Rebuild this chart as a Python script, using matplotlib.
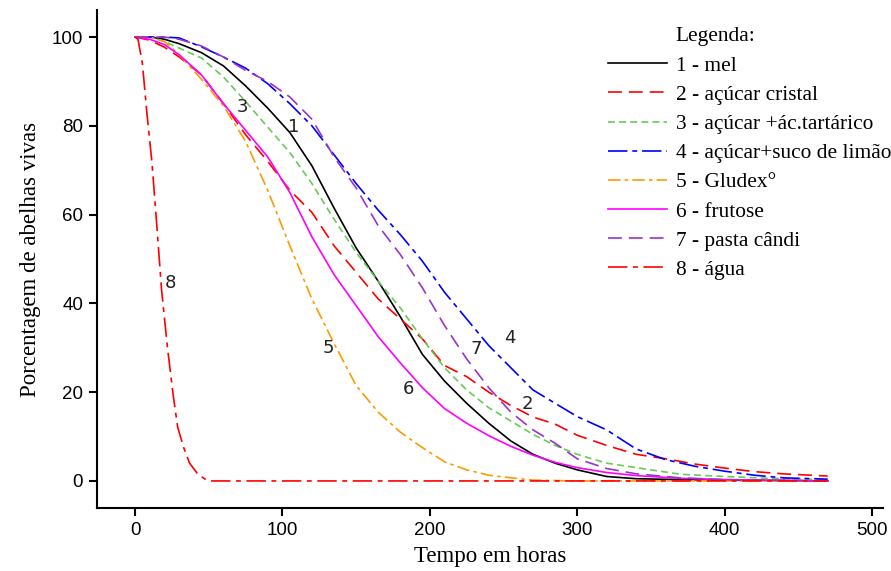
import matplotlib
matplotlib.use("Agg")
import matplotlib.pyplot as plt
import numpy as np

# ---- data ----
x_mel = [0, 10, 20, 30, 45, 60, 75, 90, 105, 120, 135, 150, 165, 180, 195, 210, 225, 240, 255, 270, 285, 300, 320, 340, 370, 400, 470]
y_mel = [100, 100, 99.5, 98.5, 96.5, 93.5, 89, 84, 78.5, 71, 61.5, 52.5, 45, 37, 28.5, 22.5, 17.5, 13, 9, 6, 4, 2.5, 1, 0.5, 0.3, 0.2, 0]

x_cristal = [0, 10, 20, 30, 45, 60, 75, 90, 105, 120, 135, 150, 165, 180, 195, 210, 225, 240, 255, 270, 285, 300, 320, 340, 360, 380, 400, 420, 440, 470]
y_cristal = [100, 99.3, 97.7, 95.5, 91.5, 85, 78, 72, 65.5, 60.5, 53, 47, 41, 36.5, 32, 26, 23.5, 20, 17, 14.4, 12.8, 10.3, 8, 6, 5, 3.8, 2.9, 2.1, 1.6, 1.1]

x_tart = [0, 10, 20, 30, 45, 60, 75, 90, 105, 120, 135, 150, 165, 180, 195, 210, 225, 240, 255, 270, 285, 300, 320, 340, 370, 400, 430, 470]
y_tart = [100, 100, 99, 97.5, 95.3, 91, 85.5, 79.7, 74, 67, 59, 51.5, 45, 39, 32, 25.5, 20.5, 16.5, 13.5, 10.5, 8, 6, 4, 3, 1.5, 1, 0.6, 0.3]

x_limao = [0, 10, 20, 30, 45, 60, 75, 90, 105, 120, 135, 150, 165, 180, 195, 210, 225, 240, 255, 270, 285, 300, 320, 340, 360, 380, 400, 420, 440, 470]
y_limao = [100, 100, 100, 99.8, 97.8, 95.5, 93, 89.5, 85, 80, 73.5, 67, 61, 55.5, 49.5, 42.5, 36.5, 30.5, 25.5, 20.5, 17.5, 14.5, 11.5, 7.2, 4.8, 3.3, 2.2, 1.3, 0.7, 0.4]

x_gludex = [0, 10, 20, 30, 45, 60, 75, 90, 105, 120, 135, 150, 165, 180, 195, 210, 225, 240, 255, 270, 300, 470]
y_gludex = [100, 100, 99, 96, 90.5, 84.5, 76.5, 65.5, 53, 41, 31, 21.5, 15.5, 11, 7.5, 4.3, 2.5, 1.3, 0.7, 0.2, 0, 0]

x_frut = [0, 10, 20, 30, 45, 60, 75, 90, 105, 120, 135, 150, 165, 180, 195, 210, 225, 240, 255, 270, 285, 300, 320, 340, 370, 400, 470]
y_frut = [100, 99.5, 98.3, 96, 91.5, 85, 79, 73, 65, 55, 46.5, 39.5, 32.5, 26.6, 21, 16.3, 13, 10.2, 7.8, 5.8, 4.2, 3, 1.9, 1.2, 0.6, 0.3, 0]

x_candi = [0, 10, 20, 30, 45, 60, 75, 90, 105, 120, 135, 150, 165, 180, 195, 210, 225, 240, 255, 270, 285, 300, 320, 340, 370, 400, 470]
y_candi = [100, 100, 100, 99.5, 98, 95.5, 92.5, 90, 86.5, 81.5, 73, 66, 57.5, 51, 43.5, 35, 27.5, 21, 15.5, 11.5, 8.5, 5, 2.8, 1.6, 0.7, 0.3, 0]

x_agua = [0, 2, 5, 8, 11.5, 15, 18, 22, 26, 29, 33, 37, 42, 47, 51, 470]
y_agua = [100, 99.5, 94, 83, 71.6, 56.5, 43, 30, 19, 12, 7.5, 4, 1.8, 0.5, 0, 0]

labels = ["1 - mel", "2 - açúcar cristal", "3 - açúcar +ác.tartárico",
          "4 - açúcar+suco de limão", "5 - Gludex°", "6 - frutose",
          "7 - pasta cândi", "8 - água"]

curve_numbers = ["1", "2", "3", "4", "5", "6", "7", "8"]
number_x = [107.9, 266, 73.2, 254.4, 130.9, 185.2, 231.3, 23.7]
number_y = [79.7, 17.3, 84.2, 32.2, 29.9, 20.7, 29.7, 44.6]

x_ticks = [0, 100, 200, 300, 400, 500]
y_ticks = [0, 20, 40, 60, 80, 100]

# ---- styling ----
plt.rcParams['lines.scale_dashes'] = False
colors = ["#000000", "#ff0000", "#66cc55", "#0000ff", "#ff9900", "#ff00ff", "#9933cc", "#ff0000"]
styles = ["-", (0, (10, 5)), (0, (5, 3)), (0, (14, 3.5, 3.5, 3.5)),
          (0, (9, 3, 2.5, 3)), "-", (0, (10, 5)), (0, (14, 4, 3.5, 4))]

series = [(x_mel, y_mel), (x_cristal, y_cristal), (x_tart, y_tart), (x_limao, y_limao),
          (x_gludex, y_gludex), (x_frut, y_frut), (x_candi, y_candi), (x_agua, y_agua)]

fig = plt.figure(figsize=(8.91, 5.71), dpi=100)
ax = fig.add_axes([0.1089, 0.1103, 0.991 - 0.1089, 0.9825 - 0.1103])

handles = []
for (xs, ys), c, ls, lab in zip(series, colors, styles, labels):
    h, = ax.plot(xs, ys, color=c, linestyle=ls, linewidth=1.2, label=lab)
    handles.append(h)

for t, xx, yy in zip(curve_numbers, number_x, number_y):
    ax.text(xx, yy, t, fontsize=13, family="DejaVu Sans", color="#222222",
            ha="center", va="center")

ax.set_xlim(-25.8, 507.5)
ax.set_ylim(-6.1, 106.1)
ax.set_xticks(x_ticks)
ax.set_yticks(y_ticks)
for s in ["top", "right"]:
    ax.spines[s].set_visible(False)
for s in ["left", "bottom"]:
    ax.spines[s].set_linewidth(1.5)
ax.tick_params(direction="out", length=6, width=1.5, labelsize=13.5, pad=4)
for lab in ax.get_xticklabels() + ax.get_yticklabels():
    lab.set_family(["Liberation Sans Narrow", "Liberation Sans"])

ax.set_xlabel("Tempo em horas", family="Liberation Serif", fontsize=16.5, labelpad=5)
ax.set_ylabel("Porcentagem de abelhas vivas", family="Liberation Serif", fontsize=16.5, labelpad=8)

leg = ax.legend(handles=handles, loc="upper left", bbox_to_anchor=(0.650, 0.908),
                frameon=False, prop={"family": "Liberation Serif", "size": 15.4},
                handlelength=2.74, handletextpad=0.43, labelspacing=0.43,
                borderaxespad=0, borderpad=0)
fig.text(675 / 891, 1 - 36 / 571, "Legenda:", family="Liberation Serif", fontsize=15.4,
         ha="left", va="center")

fig.savefig("out.png", dpi=100)
